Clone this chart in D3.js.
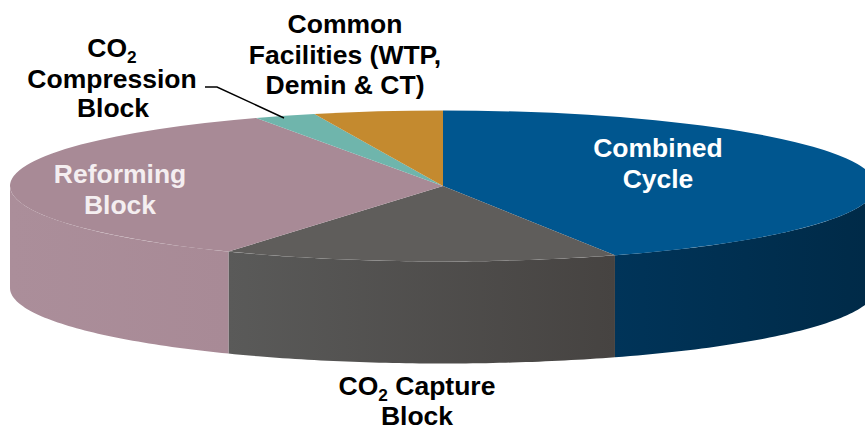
<!DOCTYPE html>
<html><head><meta charset="utf-8">
<style>html,body{margin:0;padding:0;background:#fff;overflow:hidden}svg{display:block}text{font-family:"Liberation Sans",Arial,sans-serif;font-weight:bold;text-anchor:middle}</style>
<script src="https://cdn.jsdelivr.net/npm/d3@7"></script></head><body>
<svg id="c" width="865" height="427"></svg>
<script>
const categories=["Combined Cycle","CO2 Capture Block","Reforming Block","CO2 Compression Block","Common Facilities (WTP, Demin & CT)"];
const shares=[43.5,14.75,34.65,2.3,4.8];
const topColors=["#00568f","#5f5d5b","#a88a96","#6fb5ac","#c48a2f"];
const sideLeftColors=["#003459","#5a5a59","#a88a96","#5a9a92","#a8762a"];
const sideRightColors=["#002a47","#464341","#ab8e9a","#5a9a92","#a8762a"];
const cx=443,cy=186,rx=433,ry=75.5,depth=102;
const svg=d3.select("#c");
const defs=svg.append("defs");
const arcs=d3.pie().sort(null).value(d=>d)(shares);
const px=a=>cx+rx*Math.sin(a), py=a=>cy-ry*Math.cos(a);
// side walls
arcs.forEach((d,i)=>{
  const a0=Math.max(d.startAngle,Math.PI/2), a1=Math.min(d.endAngle,Math.PI*1.5);
  if(a1<=a0) return;
  const steps=d3.range(0,61).map(k=>a0+(a1-a0)*k/60);
  const pts=steps.map(a=>[px(a),py(a)]).concat(steps.slice().reverse().map(a=>[px(a),py(a)+depth]));
  const xs=pts.map(p=>p[0]);
  const g=defs.append("linearGradient").attr("id","s"+i).attr("gradientUnits","userSpaceOnUse")
    .attr("x1",d3.min(xs)).attr("x2",d3.max(xs)).attr("y1",0).attr("y2",0);
  g.append("stop").attr("offset",0).attr("stop-color",i===2?sideRightColors[i]:sideLeftColors[i]);
  g.append("stop").attr("offset",1).attr("stop-color",i===2?sideLeftColors[i]:sideRightColors[i]);
  svg.append("path").attr("d",d3.line()(pts)+"Z").attr("fill",`url(#s${i})`);
});
// top face
const topFace=svg.append("g").attr("transform",`translate(${cx},${cy}) scale(1,${ry/rx})`);
const arc=d3.arc().innerRadius(0).outerRadius(rx);
topFace.selectAll("path").data(arcs).join("path").attr("d",arc).attr("fill",(d,i)=>topColors[i]);
// leader
svg.append("path").attr("d",d3.line()([[205,87],[217,87],[284,118]])).attr("fill","none").attr("stroke","#000").attr("stroke-width",1.4);
// labels
const fs=26.5;
function label(x,y,lines,fill,lead=30.5){
  lines.forEach((l,i)=>{
    const t=svg.append("text").attr("x",x).attr("y",y+i*lead).attr("font-size",fs).attr("fill",fill);
    const m=l.split("_");
    t.append("tspan").text(m[0]);
    if(m.length>1){
      t.append("tspan").attr("font-size",fs*0.65).attr("dy",6).text("2");
      if(m[1]) t.append("tspan").attr("dy",-6).text(m[1]);
    }
  });
}
label(112,57,["CO_"],"#000");
label(112,88,["Compression"],"#000");
label(113,117,["Block"],"#000");
label(345,33,["Common","Facilities (WTP,","Demin & CT)"],"#000");
label(658,157,["Combined","Cycle"],"#fff");
label(120,183,["Reforming","Block"],"#f4eef0");
label(417,395,["CO_ Capture"],"#000");
label(417,425,["Block"],"#000");
</script></body></html>
